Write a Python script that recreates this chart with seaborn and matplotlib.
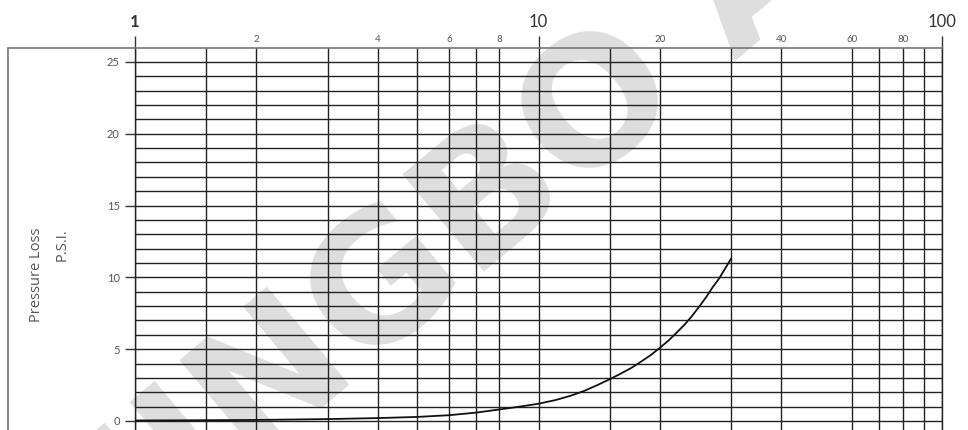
import matplotlib
matplotlib.use("Agg")
import matplotlib.pyplot as plt
from matplotlib.lines import Line2D
import seaborn as sns

# ---- data ----
flow = [1, 2, 3, 4, 5, 6, 7, 8, 9, 10, 11, 12, 13, 14, 15, 16, 17, 18, 19, 20,
        21, 22, 23, 24, 25, 26, 27, 28, 29, 30]
pressure_loss = [0.03, 0.07, 0.13, 0.2, 0.28, 0.4, 0.58, 0.8, 1.0, 1.2, 1.45,
                 1.75, 2.1, 2.5, 2.9, 3.3, 3.7, 4.15, 4.6, 5.1, 5.6, 6.15, 6.7,
                 7.3, 7.95, 8.6, 9.3, 9.9, 10.6, 11.3]

x_major = [1, 10, 100]
x_major_labels = ["1", "10", "100"]
x_minor = [1.5, 2, 3, 4, 5, 6, 7, 8, 15, 20, 30, 40, 60, 70, 80, 90]
x_minor_labels = ["", "2", "", "4", "", "6", "", "8", "", "20", "", "40", "60", "", "80", ""]
y_major = [0, 5, 10, 15, 20, 25]
y_minor = [v for v in range(0, 26) if v % 5 != 0]
y_label_1 = "Pressure Loss"
y_label_2 = "P.S.I."
watermark = "NINGBO A"

sns.set_theme(style="white")
plt.rcParams["font.family"] = ["Lato", "DejaVu Sans"]

W, H = 968, 430
fig = plt.figure(figsize=(W / 100, H / 100), dpi=100)
fig.patch.set_facecolor("white")

left_px, right_px, top_px = 135, 942, 48
ax = fig.add_axes([left_px / W, 0, (right_px - left_px) / W, 1 - top_px / H])
ax.set_facecolor("none")

# watermark behind everything
fig.text(432 / W, 1 - 252 / H, watermark, fontsize=126, fontweight="bold",
         color="#dedede", rotation=40, ha="center", va="center",
         zorder=-5, family=["DejaVu Sans"])

sns.lineplot(x=flow, y=pressure_loss, ax=ax, color="#111111", linewidth=1.3,
             zorder=5)

ax.set_xscale("log")
ax.set_xlim(1, 100)
ax.set_ylim(-0.63, 25.97)

ax.xaxis.tick_top()
ax.set_xticks(x_major, labels=x_major_labels)
ax.set_xticks(x_minor, labels=x_minor_labels, minor=True)
ax.set_yticks(y_major, labels=[str(v) for v in y_major])
ax.set_yticks(y_minor, minor=True)

ax.tick_params(axis="x", which="major", top=True, bottom=False, length=9,
               width=1.0, color="#333333", labelsize=12, pad=4,
               labelcolor="#333333", direction="out")
ax.tick_params(axis="x", which="minor", top=True, bottom=False, length=0,
               labelsize=7, pad=3, labelcolor="#555555")
ax.tick_params(axis="y", which="major", left=True, length=7, width=1.0,
               color="#333333", labelsize=8, pad=4, labelcolor="#555555",
               direction="out")
ax.tick_params(axis="y", which="minor", left=False, length=0)

ax.get_xticklabels()[0].set_fontweight("bold")

ax.grid(which="both", axis="both", color="#222222", linewidth=1.0)
ax.set_axisbelow(True)

ax.spines["bottom"].set_visible(False)
for side in ["left", "right"]:
    ax.spines[side].set_color("#222222")
    ax.spines[side].set_linewidth(1.0)
ax.spines["top"].set_color("#777777")
ax.spines["top"].set_linewidth(1.2)

ax.set_xlabel("")
ax.set_ylabel("")

# outer frame extending to the left
ytop = 1 - top_px / H
fig.add_artist(Line2D([8 / W, left_px / W], [ytop, ytop], color="#777777", lw=1.2))
fig.add_artist(Line2D([8 / W, 8 / W], [0, ytop], color="#777777", lw=1.2))

# y-axis label (two rotated lines, top-aligned)
fig.text(36 / W, 1 - 228 / H, y_label_1, rotation=90, ha="center", va="top",
         fontsize=10.5, color="#555555", family=["Open Sans", "DejaVu Sans"])
fig.text(62 / W, 1 - 228 / H, y_label_2, rotation=90, ha="center", va="top",
         fontsize=10.5, color="#555555", family=["Open Sans", "DejaVu Sans"])

fig.savefig("out.png", dpi=100)
